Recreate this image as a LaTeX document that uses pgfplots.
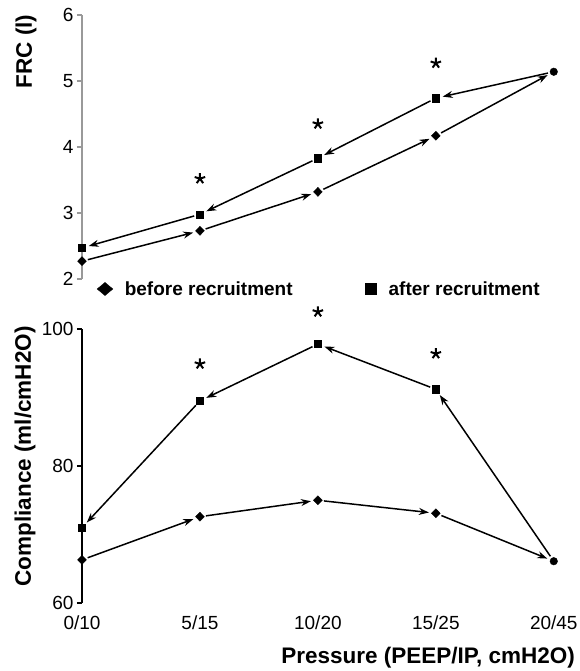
\documentclass[border=0pt]{standalone}
\usepackage{fontspec}
\setmainfont{Liberation Sans}
\usepackage{pgfplots}
\pgfplotsset{compat=1.18}
\usetikzlibrary{arrows.meta}

\pgfplotsset{
  arr/.style={-{Stealth[length=10pt,width=7pt]}, line width=1.5pt, black, shorten <=6pt, shorten >=7pt},
  common/.style={
    scale only axis, width=493pt, xmin=0, xmax=4.18,
    axis lines*=left, x axis line style={draw=none}, xtick style={draw=none},
    clip=false, tick align=outside, major tick length=5pt,
    ticklabel style={font=\fontsize{19}{22}\selectfont},
    /pgf/number format/assume math mode=true,
    label style={font=\fontsize{22.5}{26}\selectfont\bfseries},
  },
  bm/.style={only marks, mark=diamond*, mark size=4.5pt, mark options={xscale=1.3}, black},
  am/.style={only marks, mark=square*, mark size=3.6pt, black},
  em/.style={only marks, mark=*, mark size=3.8pt, black},
  sm/.style={only marks, mark=star, mark size=5.5pt, mark options={line width=2pt}, black},
}

\begin{document}
\begin{tikzpicture}
\useasboundingbox (-82pt,-392pt) rectangle (498pt,279pt);

% ---------------- top panel: FRC ----------------
\begin{axis}[common, at={(0pt,0pt)}, anchor=south west, height=264pt,
  ymin=2, ymax=6, ytick={2,3,4,5,6}, xtick=\empty,
  y axis line style={black!40, line width=2pt}, ytick style={black!40, line width=1.3pt},
  ylabel={FRC (l)},
  ylabel style={at={(rel axis cs:0,0.862)}, anchor=base, yshift=50pt},
  legend image code/.code={\draw[#1] plot coordinates {(0pt,0pt)};},
  legend style={draw=none, fill=none, inner sep=0pt, legend columns=2,
    at={(rel axis cs:0,0)}, anchor=west, xshift=15pt, yshift=-10pt,
    font=\fontsize{19}{22}\selectfont\bfseries,
    nodes={inner sep=0pt},
    /tikz/every odd column/.append style={column sep=12pt},
    /tikz/every even column/.append style={column sep=73pt}},
]
\addlegendimage{only marks, mark=diamond*, mark size=6.5pt, mark options={xscale=1.6}, black}
\addlegendentry{before recruitment}
\addlegendimage{only marks, mark=square*, mark size=5.5pt, black}
\addlegendentry{after recruitment}

% before recruitment (forward arrows)
\addplot[arr] coordinates {(0,2.27) (1,2.73)};
\addplot[arr] coordinates {(1,2.73) (2,3.32)};
\addplot[arr] coordinates {(2,3.32) (3,4.17)};
\addplot[arr] coordinates {(3,4.17) (4,5.14)};
% after recruitment (backward arrows)
\addplot[arr] coordinates {(4,5.14) (3,4.74)};
\addplot[arr] coordinates {(3,4.74) (2,3.83)};
\addplot[arr] coordinates {(2,3.83) (1,2.98)};
\addplot[arr] coordinates {(1,2.98) (0,2.47)};

\addplot[bm] coordinates {(0,2.27) (1,2.73) (2,3.32) (3,4.17)};
\addplot[am] coordinates {(0,2.47) (1,2.98) (2,3.83) (3,4.74)};
\addplot[em] coordinates {(4,5.14)};
\addplot[sm] coordinates {(1,3.52) (2,4.35) (3,5.27)};
\end{axis}

% ---------------- bottom panel: Compliance ----------------
\begin{axis}[common, at={(0pt,-324pt)}, anchor=south west, height=274pt,
  ymin=60, ymax=100, ytick={60,80,100},
  xtick={0,1,2,3,4}, xticklabels={0/10,5/15,10/20,15/25,20/45},
  xticklabel style={yshift=-4pt},
  y axis line style={black, line width=1.4pt}, ytick style={black, line width=1.3pt},
  ylabel={Compliance (ml/cmH2O)},
  ylabel style={at={(rel axis cs:0,0.535)}, anchor=base, yshift=51pt},
  xlabel={Pressure (PEEP/IP, cmH2O)},
  xlabel style={at={(rel axis cs:1,0)}, anchor=base east, inner xsep=0pt, yshift=-60pt},
]
% before recruitment (forward arrows)
\addplot[arr] coordinates {(0,66.3) (1,72.6)};
\addplot[arr] coordinates {(1,72.6) (2,75.0)};
\addplot[arr] coordinates {(2,75.0) (3,73.1)};
\addplot[arr] coordinates {(3,73.1) (4,66.1)};
% after recruitment (backward arrows)
\addplot[arr] coordinates {(4,66.1) (3,91.2)};
\addplot[arr] coordinates {(3,91.2) (2,97.8)};
\addplot[arr] coordinates {(2,97.8) (1,89.5)};
\addplot[arr] coordinates {(1,89.5) (0,71.0)};

\addplot[bm] coordinates {(0,66.3) (1,72.6) (2,75.0) (3,73.1)};
\addplot[am] coordinates {(0,71.0) (1,89.5) (2,97.8) (3,91.2)};
\addplot[em] coordinates {(4,66.1)};
\addplot[sm] coordinates {(1,94.9) (2,102.5) (3,96.4)};
\end{axis}
\end{tikzpicture}
\end{document}
